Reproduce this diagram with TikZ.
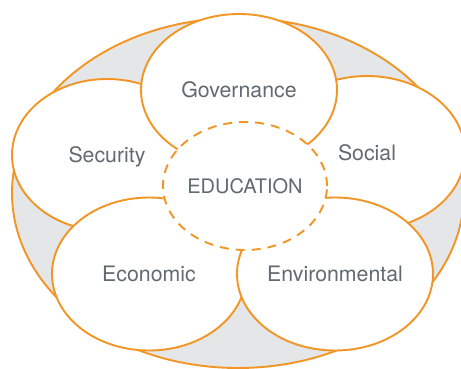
\documentclass[tikz,border=0pt]{standalone}
\usepackage{fontspec}
\setmainfont{TeX Gyre Heros}
\usepackage{tikz}
\usetikzlibrary{shapes.geometric}
\definecolor{ringorange}{HTML}{F29524}
\definecolor{ringgrey}{HTML}{E4E6E8}
\definecolor{labelgrey}{HTML}{626A71}
\tikzstyle{outerring} = [ellipse, draw=ringorange, line width=1.9pt, fill=ringgrey, minimum width=452pt, minimum height=350pt, inner sep=0pt]
\tikzstyle{petal} = [ellipse, draw=ringorange, line width=1.9pt, fill=white, inner sep=0pt, text=labelgrey, font=\fontsize{21.3}{25}\selectfont, text height=15.3pt, text depth=0pt]
\tikzstyle{core} = [petal, dash pattern=on 9pt off 7pt, minimum width=164pt, minimum height=128pt, font=\fontsize{20}{24}\selectfont, text height=14.4pt]

\begin{document}
\begin{tikzpicture}[x=1pt, y=1pt]
        \useasboundingbox (0,0) rectangle (461,368);
        \node[outerring] (ring) at (238,175) {};
        \node[petal, minimum width=190pt, minimum height=152pt] (security) at (107,213) {Security};
        \node[petal, minimum width=196pt, minimum height=154pt] (social) at (367,215) {Social};
        \node[petal, minimum width=196pt, minimum height=152pt] (governance) at (239,278) {Governance};
        \node[petal, minimum width=194pt, minimum height=153pt] (economic) at (149,94) {Economic};
        \node[petal, minimum width=196pt, minimum height=153pt] (environmental) at (335,94) {Environmental};
        \node[core] (education) at (245,182) {EDUCATION};
        \end{tikzpicture}
\end{document}
